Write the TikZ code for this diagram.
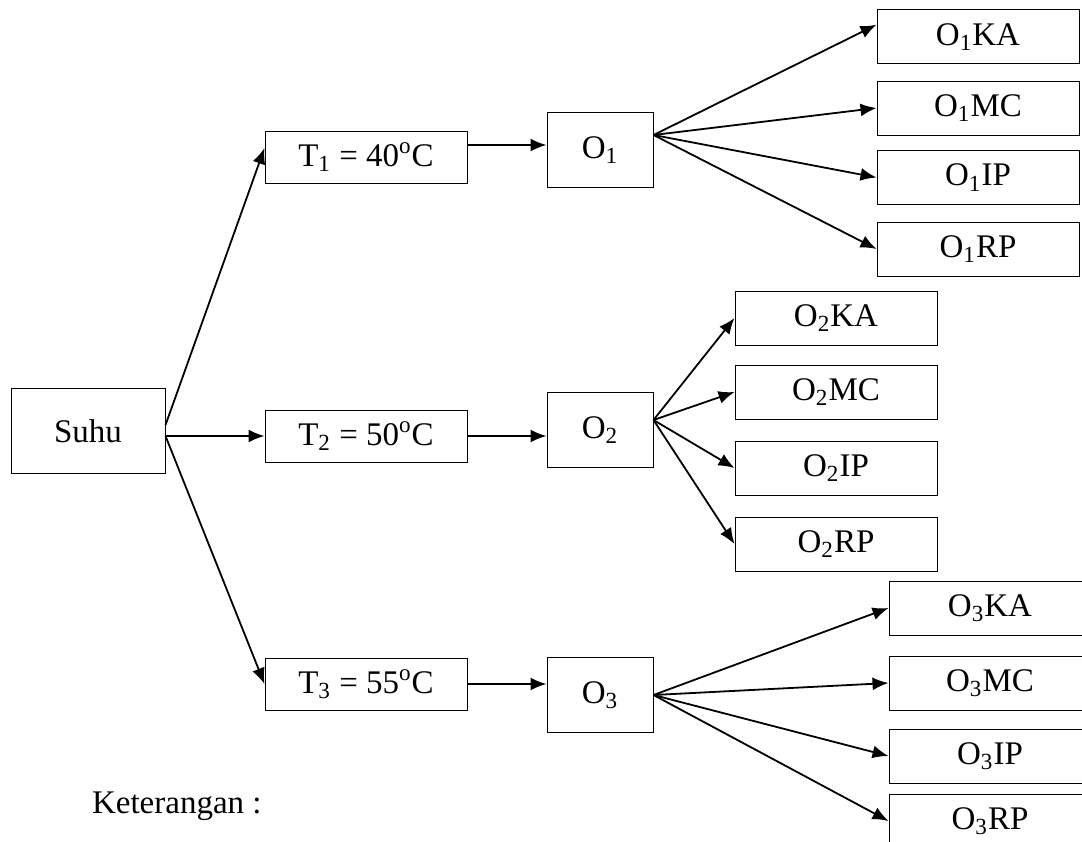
\documentclass[tikz,border=0pt]{standalone}
\usepackage{fontspec}
\setmainfont{Liberation Serif}
\usetikzlibrary{arrows.meta,positioning}
\tikzset{%
  font=\fontsize{16.5}{19}\selectfont,>={Latex[length=8pt,width=6.5pt]},
  box/.style={draw,rectangle,line width=0.5pt,inner sep=0pt,align=center},
  line/.style={draw,->,line width=0.9pt}
}

\begin{document}
\begin{tikzpicture}[x=0.5pt,y=-0.5pt,
	leaf/.style={box,minimum width=101pt,minimum height=27pt},
	temp/.style={box,minimum width=101pt,minimum height=26pt},
	obs/.style={box,minimum width=53pt,minimum height=37.5pt}]
	\useasboundingbox (0,0) rectangle (1082,841);
	
	\node[box,minimum width=77pt,minimum height=42.5pt] (suhu) at (88,431) {Suhu};
	
	\node[temp] (t1) at (366,157) {T\textsubscript{1} = 40\textsuperscript{o}C};
	\node[temp] (t2) at (366,436) {T\textsubscript{2} = 50\textsuperscript{o}C};
	\node[temp] (t3) at (366,684) {T\textsubscript{3} = 55\textsuperscript{o}C};
	
	\node[obs] (o1) at (600,150) {O\textsubscript{1}};
	\node[obs] (o2) at (600,430) {O\textsubscript{2}};
	\node[obs] (o3) at (600,695) {O\textsubscript{3}};
	
	% leaves
	\foreach \lab/\y in {KA/36.7,MC/108,IP/177.5,RP/249}
	\node[leaf] (o1\lab) at (978,\y) {O\textsubscript{1}\lab};
	\foreach \lab/\y in {KA/318,MC/392,IP/468,RP/544}
	\node[leaf] (o2\lab) at (836,\y) {O\textsubscript{2}\lab};
	\foreach \lab/\y in {KA/608,MC/683,IP/756,RP/821}
	\node[leaf] (o3\lab) at (990,\y) {O\textsubscript{3}\lab};
	
	\node[anchor=west] (ket) at (85,806) {Keterangan :};
	
	% arrows
	\coordinate (s2) at (suhu.east |- t2.west);
	\draw[line] ([yshift=3pt]suhu.east) -- ([yshift=4.5pt]t1.west);
	\draw[line] (s2) -- (t2.west);
	\draw[line] (s2) -- (t3.west);
	\coordinate (t1out) at ([yshift=6pt]t1.east);
	\draw[line] (t1out) -- (o1.west |- t1out);
	\draw[line] (t2.east) -- (o2.west |- t2.east);
	\draw[line] (t3.east) -- (o3.west |- t3.east);
	
	\coordinate (o1out) at ([yshift=7.5pt]o1.east);
	\coordinate (o2out) at ([yshift=5pt]o2.east);
	\draw[line] (o1out) -- ([yshift=6pt]o1KA.west);
	\foreach \lab in {MC,IP,RP}
	\draw[line] (o1out) -- (o1\lab.west);
	\foreach \lab in {KA,MC,IP,RP}{
		\draw[line] (o2out) -- (o2\lab.west);
		\draw[line] (o3.east) -- (o3\lab.west);
	}
\end{tikzpicture}
\end{document}
